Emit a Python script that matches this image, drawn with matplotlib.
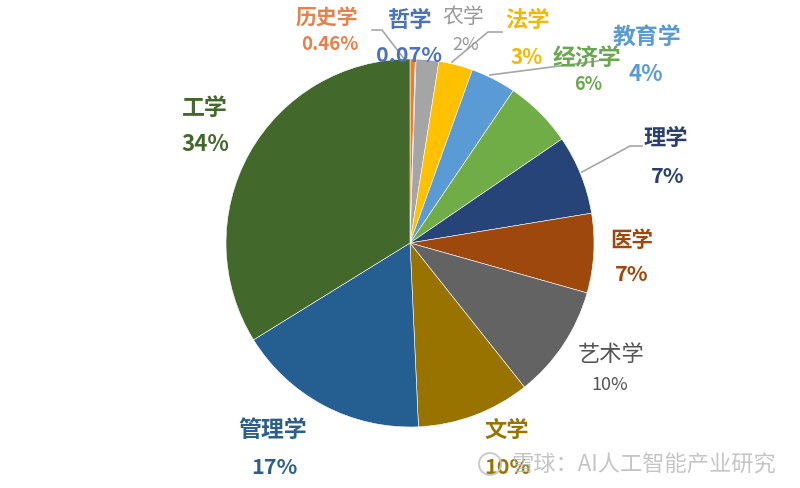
import matplotlib
matplotlib.use("Agg")
import matplotlib.pyplot as plt
from matplotlib.patches import Circle

plt.rcParams["font.family"] = ["Noto Sans CJK SC", "DejaVu Sans"]

# data, clockwise from 12 o'clock
subjects = ["历史学", "哲学", "农学", "法学", "教育学", "经济学",
            "理学", "医学", "艺术学", "文学", "管理学", "工学"]
shares = [0.46, 0.07, 2, 3, 4, 6, 7, 7, 10, 10, 17, 34]
share_labels = ["0.46%", "0.07%", "2%", "3%", "4%", "6%",
                "7%", "7%", "10%", "10%", "17%", "34%"]

colors = ["#ED7D31", "#4472C4", "#A5A5A5", "#FFC000", "#5B9BD5", "#70AD47",
          "#264478", "#9E480E", "#636363", "#997300", "#255E91", "#43682B"]
text_colors = ["#E8804A", "#4A72C0", "#9A9A9A", "#F5B800", "#5B9BD5", "#6AA84F",
               "#2A3F6E", "#9E480E", "#555555", "#997300", "#2C5F8E", "#43682B"]
bold = [True, True, False, True, True, True, True, True, False, True, True, True]
name_sizes = [15, 16, 15, 16, 16.5, 16.5, 16, 15.5, 16, 16, 16.5, 16.5]
pct_sizes = [13.5, 15.5, 13, 15, 16, 13, 15.5, 15.5, 13, 15.5, 15.5, 16]

# label anchors in image pixels (x, y from top): name, percent
name_pos = [(327, 18), (409, 20), (463, 17), (528, 20), (647, 38), (587, 58),
            (666, 138), (632, 240), (611, 355), (507, 430), (273, 430), (205, 108)]
pct_pos = [(330, 45), (409, 56), (466, 45), (527, 58), (646, 75), (588, 85),
           (668, 177), (632, 275), (610, 385), (507, 468), (274, 468), (205, 145)]

# leader lines in image pixels
leaders = [
    [(372, 31), (382, 31), (405, 61)],
    [(502, 33), (488, 33), (452, 63)],
    [(490, 76), (598, 62)],
    [(582, 173), (630, 147), (642, 147)],
]

W, H = 800, 489
fig = plt.figure(figsize=(8, 4.89), dpi=100)
ax = fig.add_axes([0, 0, 1, 1])

ax.pie(shares, colors=colors, startangle=90, counterclock=False,
       center=(410, H - 244), radius=184,
       wedgeprops=dict(edgecolor="white", linewidth=0.4))

ax.set_xlim(0, W)
ax.set_ylim(0, H)
ax.set_aspect("equal")
ax.axis("off")

for pts in leaders:
    xs = [p[0] for p in pts]
    ys = [H - p[1] for p in pts]
    ax.plot(xs, ys, color="#A6A6A6", linewidth=1.2, zorder=3)

for i, name in enumerate(subjects):
    weight = "bold" if bold[i] else "normal"
    nx, ny = name_pos[i]
    px, py = pct_pos[i]
    ax.text(nx, H - ny, name, color=text_colors[i], fontsize=name_sizes[i],
            fontweight=weight, ha="center", va="center", zorder=4)
    ax.text(px, H - py, share_labels[i], color=text_colors[i], fontsize=pct_sizes[i],
            fontweight=weight, ha="center", va="center", zorder=4)

# watermark
ax.add_patch(Circle((490, H - 465), 11, fill=False, edgecolor="#C8C8C8",
                    linewidth=1.5, alpha=0.9, zorder=5))
ax.text(644, H - 465, "雪球：AI人工智能产业研究", color="#BBBBBB", fontsize=16,
        ha="center", va="center", alpha=0.85, zorder=5)

fig.savefig("out.png", dpi=100)
